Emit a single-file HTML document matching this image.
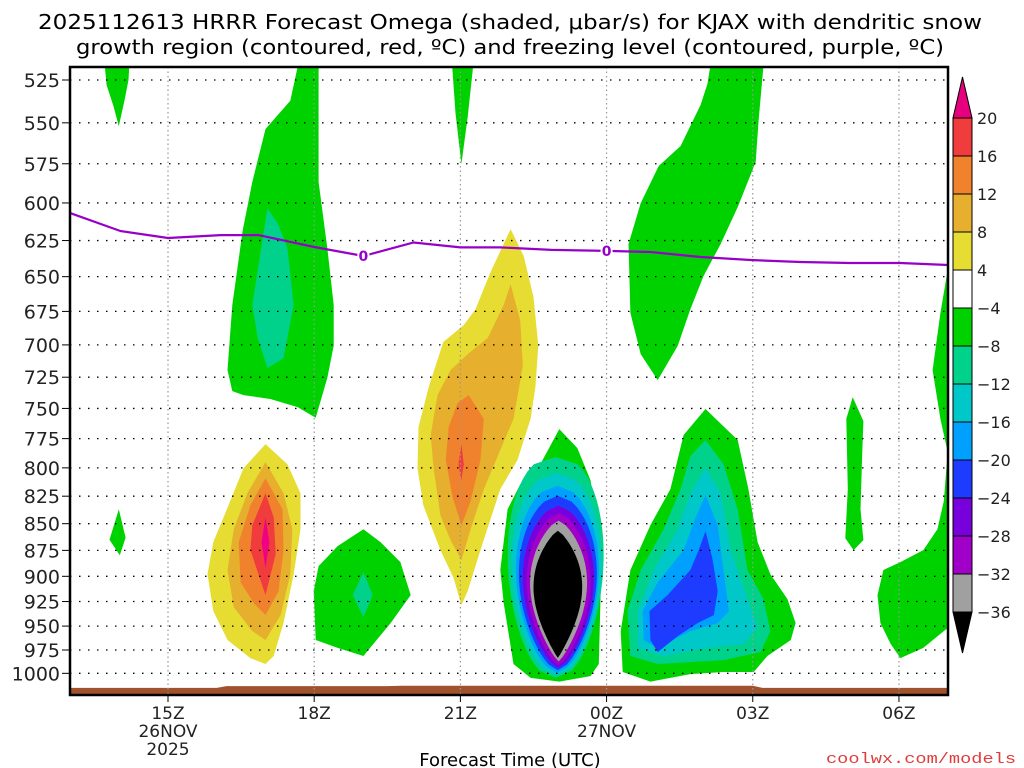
<!DOCTYPE html>
<html><head><meta charset="utf-8"><style>
html,body{margin:0;padding:0;background:#fff;}
svg{display:block;font-family:"DejaVu Sans","Liberation Sans",sans-serif;}
</style></head><body>
<svg id="chart" xmlns="http://www.w3.org/2000/svg" width="1024" height="768" viewBox="0 0 1024 768">
<rect width="1024" height="768" fill="#fff"/>
<text x="38" y="29" font-size="20" textLength="944" lengthAdjust="spacingAndGlyphs">2025112613 HRRR Forecast Omega (shaded, μbar/s) for KJAX with dendritic snow</text>
<text x="76" y="54" font-size="20" textLength="868" lengthAdjust="spacingAndGlyphs">growth region (contoured, red, ºC) and freezing level (contoured, purple, ºC)</text>
<defs><clipPath id="plotclip"><rect x="70" y="67" width="878" height="628"/></clipPath></defs>
<g id="shapes" clip-path="url(#plotclip)"></g>
<g id="grid"></g>
<g id="overlay" clip-path="url(#plotclip)"></g>
<rect x="70" y="67" width="878" height="628" fill="none" stroke="#000" stroke-width="2.5"/>
<g id="axes"></g>
<g id="cbar"></g>
<text x="510" y="766" font-size="18" text-anchor="middle">Forecast Time (UTC)</text>
<text x="1016" y="763" font-size="15" text-anchor="end" fill="#e03c3c" font-family="Liberation Mono, monospace" textLength="190" lengthAdjust="spacingAndGlyphs">coolwx.com/models</text>
</svg>
<script>
const NS='http://www.w3.org/2000/svg';
const colors={g:'#00d200',tg:'#00d28c',cy:'#00c8c8',az:'#00a0ff',bl:'#1e3cff',pu:'#7800dc',mg:'#a000c8',gr:'#a0a0a0',bk:'#000000',ye:'#e6dc32',go:'#e6af2d',or:'#f0822d',rd:'#f03c3c',pk:'#f00082'};
const pressureTicks=[525,550,575,600,625,650,675,700,725,750,775,800,825,850,875,900,925,950,975,1000];
const timeTicks=[15,18,21,24,27,30];
const timeLabels=['15Z','18Z','21Z','00Z','03Z','06Z'];
const dateLabels=['26NOV','','','27NOV','',''];
const yearLabels=['2025','','','','',''];
const cbarLabels=['20','16','12','8','4','\u22124','\u22128','\u221212','\u221216','\u221220','\u221224','\u221228','\u221232','\u221236'];
const cbarColors=['rd','or','go','ye','white','g','tg','cy','az','bl','pu','mg','gr'];
const blobTopLeft=[[13.66,505],[13.74,528],[13.88,540],[13.99,552],[14.11,536.5],[14.19,525],[14.23,505]];
const blobTall=[[18.09,505],[17.76,505],[17.51,537],[17.00,553.7],[16.73,586.5],[16.53,618.5],[16.32,670.3],[16.22,719.4],[16.32,736],[16.55,739.2],[17.10,742.4],[17.66,748.9],[18.03,757.7],[18.27,725.6],[18.40,700.7],[18.40,670.3],[18.27,630],[18.09,586.5]];
const blobTallTeal=[[17.04,603.6],[16.73,670.3],[16.84,694.6],[17.04,717.8],[17.37,710.2],[17.58,670.3],[17.45,630],[17.25,613.3]];
const blobSmallLeft=[[13.99,836.8],[13.80,864.9],[14.01,879.7],[14.13,863]];
const warm17Yellow=[[17.00,779.6],[16.55,800.3],[16.14,844.1],[15.93,867.2],[15.81,897.8],[15.93,934.7],[16.22,964.5],[16.69,983.6],[17.00,989.9],[17.17,981.4],[17.37,946.8],[17.58,897.8],[17.72,855.1],[17.72,822.3],[17.45,796.8]];
const warm17Gold=[[17.00,795],[16.63,822.3],[16.35,855.1],[16.22,893.9],[16.35,930.6],[16.73,955.2],[17.00,964.5],[17.31,938.7],[17.51,897.8],[17.55,855.1],[17.37,822.3]];
const warm17Orange=[[17.00,809],[16.69,833.2],[16.45,867.2],[16.49,905.8],[16.76,926.6],[17.00,938.7],[17.27,914.6],[17.37,874.7],[17.35,836.8]];
const warm17Red=[[17.00,822.3],[16.73,851.4],[16.69,874.7],[17.00,918.6],[17.21,878.6],[17.17,844.1]];
const warm17Pink=[[17.0,844.1],[16.92,867.2],[17.0,892],[17.08,867.2]];
const green19=[[19.01,855.1],[18.48,871],[18.09,890.1],[17.99,914.6],[18.03,964.5],[18.48,972.8],[19.01,981.4],[19.57,946.8],[19.98,918.6],[19.77,886.2],[19.36,867.2]];
const teal19=[[19.01,895.8],[18.79,918.6],[19.01,940.8],[19.20,918.6]];
const spike21=[[20.80,505],[20.90,544.2],[21.02,575.2],[21.15,546.5],[21.31,505]];
const warm22Yellow=[[22.03,617.3],[22.30,635.6],[22.50,664.5],[22.60,700.8],[22.54,732.8],[22.44,758.6],[22.17,793.3],[21.82,818.7],[21.41,874.7],[21.15,914.6],[21.02,928.6],[20.86,901.7],[20.59,874.7],[20.24,833.2],[20.12,800.3],[20.14,765.3],[20.35,732.8],[20.65,697.8],[21.07,685],[21.31,673.3],[21.62,646.7]];
const warm22Gold=[[22.03,655.3],[22.23,682.1],[22.28,716.3],[22.09,758.6],[21.82,784.6],[21.48,818.7],[21.21,855.1],[21.02,884.3],[20.80,865.3],[20.59,842.2],[20.45,800.3],[20.39,772],[20.53,739.2],[20.80,719.4],[21.15,707],[21.56,694.8],[21.89,670.3]];
const warm22Orange=[[21.17,739.2],[21.48,758.6],[21.41,793.3],[21.21,829.5],[21.02,851.4],[20.84,825.8],[20.70,793.3],[20.76,765.3],[20.94,745.7]];
const warm22Red=[[21.02,779.6],[21.07,796.8],[21.02,810.8],[20.96,796.8]];
const cold23Green=[[23.03,767],[23.40,782.9],[23.67,810.8],[23.81,847.7],[23.88,914.6],[23.84,989.9],[23.67,1003],[23.03,1009],[22.44,1005],[22.09,989.9],[21.89,926.6],[21.82,893.9],[21.97,836.8],[22.23,814.3],[22.64,796.8]];
// nested levels for 23Z core: [level, topHPa, bottomHPa, leftHour, rightHour]
const coreLevels=[['tg',790.6,1005,21.97,23.94],['cy',804.7,1002.6,22.05,23.90],['az',815.8,999.4,22.14,23.84],['bl',824.6,996.7,22.20,23.80],['pu',833.6,994,22.28,23.74],['mg',840.4,991.3,22.36,23.67],['gr',847.2,987.2,22.43,23.60],['bk',856.5,983.4,22.50,23.50]];
const coreRoundness=[0.45,0.5,0.55,0.6,0.65,0.7,0.8,0.9];
const tall01=[[26.20,505],[27.26,505],[27.12,548.6],[27.06,573.9],[26.69,602.7],[26.34,627.4],[25.99,649.6],[25.72,673.3],[25.46,700.8],[25.05,727.3],[24.70,707],[24.49,676.2],[24.45,627.4],[24.70,600.1],[25.07,576.4],[25.52,564],[25.93,539.4],[26.07,527.3]];
const cold02Green=[[26.03,750.5],[26.69,776.2],[26.91,818.7],[27.10,867.2],[27.36,897.8],[27.71,922.5],[27.88,946.8],[27.78,964.5],[27.30,981.4],[27.02,998.6],[26.40,998.6],[25.72,1000.8],[24.90,1009],[24.33,998.6],[24.29,955.2],[24.49,893.9],[24.90,851.4],[25.31,818.7],[25.58,772]];
const cold02Teal=[[26.03,776.2],[26.40,796.8],[26.69,836.8],[26.89,893.9],[27.22,922.5],[27.36,955.2],[27.16,977.2],[26.40,985.7],[25.72,987.9],[25.05,989.9],[24.49,981.4],[24.43,934.7],[24.70,893.9],[25.17,855.1],[25.52,818.7],[25.72,789.8]];
const cold02Cyan=[[26.03,800.3],[26.34,822.3],[26.55,874.7],[26.89,922.5],[27.10,951],[26.81,968.7],[26.07,972.8],[25.17,981.4],[24.64,972.8],[24.64,934.7],[24.97,893.9],[25.46,855.1],[25.72,822.3]];
const cold02Azure=[[26.03,824],[26.28,851.4],[26.40,893.9],[26.51,934.7],[26.28,946.8],[25.72,955.2],[25.05,972.8],[24.76,964.5],[24.74,934.7],[25.05,905.8],[25.58,874.7],[25.83,844.1]];
const cold02Blue=[[26.03,857],[26.17,882.4],[26.28,914.6],[26.20,938.7],[25.87,946.8],[25.46,960.4],[25.05,977.2],[24.90,964.5],[24.88,934.7],[25.25,918.6],[25.72,893.9],[25.89,874.7]];
const stick05=[[29.05,740.8],[29.27,760.4],[29.25,783],[29.21,836.8],[29.27,865.3],[29.07,874.7],[28.90,863.5],[28.95,818.7],[28.92,758.6]];
const right06=[[31.3,630.4],[31.02,641.1],[30.85,676.2],[30.69,719.4],[30.85,758.6],[31.0,786.4],[30.92,829.5],[30.79,855.1],[30.50,874.7],[30.03,886.2],[29.68,893.9],[29.56,918.6],[29.62,946.8],[29.83,968.7],[30.03,983.6],[30.50,972.8],[30.92,955.2],[31.3,940.4]];
const freezeHours=[13,14.03,15,16.08,16.86,18,19.01,20.04,21,21.82,22.87,24,24.9,25.93,27,27.98,29,30.03,31.02];
const freezeHPa=[606.7,618.6,623.3,621.3,621.3,629.4,635.6,626.3,629.7,629.7,631.4,632.1,632.8,636.3,638.4,639.7,640.4,640.4,641.8];
const freezeLabelHours=[19.01,24];
const groundHours=[13,16,16.2,19.5,19.8,27,27.2,31.1];
const groundHPa=[1016,1016,1014,1014,1013.5,1013.5,1016,1016];

const X=h=>168+(h-15)*48.73;
const Y=p=>80+920.8*Math.log(p/525);
const shapes=document.getElementById('shapes');
function poly(pts,lvl,name){
  const el=document.createElementNS(NS,'polygon');
  el.setAttribute('points',pts.map(q=>X(q[0]).toFixed(1)+','+Y(q[1]).toFixed(1)).join(' '));
  el.setAttribute('fill',colors[lvl]);
  
  
  shapes.appendChild(el);
}
const gpts=groundHours.map((h,i)=>[h,groundHPa[i]]).concat([[31.1,1040],[13,1040]]);
poly(gpts,'g','ground');
shapes.lastChild.setAttribute('fill','#a0522d');
poly(blobTopLeft,'g','green-blob-1');
poly(blobTall,'g','green-blob-2');
poly(blobTallTeal,'tg','teal-blob-2');
poly(blobSmallLeft,'g','green-blob-3');
poly(warm17Yellow,'ye','warm-17z-yellow');
poly(warm17Gold,'go','warm-17z-gold');
poly(warm17Orange,'or','warm-17z-orange');
poly(warm17Red,'rd','warm-17z-red');
poly(warm17Pink,'pk','warm-17z-pink');
poly(green19,'g','green-blob-19z');
poly(teal19,'tg','teal-blob-19z');
poly(spike21,'g','green-spike-21z');
poly(warm22Yellow,'ye','warm-22z-yellow');
poly(warm22Gold,'go','warm-22z-gold');
poly(warm22Orange,'or','warm-22z-orange');
poly(warm22Red,'rd','warm-22z-red');
poly(cold23Green,'g','cold-23z-green');
coreLevels.forEach((c,k)=>{
  const [lvl,top,bot,l,r]=c;
  const ex=coreRoundness[k];
  const hc=(l+r)/2,hw=(r-l)/2,pts=[];
  const yt=Y(top),yb=Y(bot);
  const wf=t=>hw*Math.pow(Math.sin(Math.PI*Math.pow(t,0.85)),ex);
  for(let i=0;i<=30;i++){const t=i/30;pts.push([hc+wf(t),t]);}
  for(let i=29;i>0;i--){const t=i/30;pts.push([hc-wf(t),t]);}
  const el=document.createElementNS(NS,'polygon');
  el.setAttribute('points',pts.map(q=>X(q[0]).toFixed(1)+','+(yt+q[1]*(yb-yt)).toFixed(1)).join(' '));
  el.setAttribute('fill',colors[lvl]);
  
  
  shapes.appendChild(el);
});
poly(tall01,'g','green-blob-01z');
poly(cold02Green,'g','cold-02z-green');
poly(cold02Teal,'tg','cold-02z-teal');
poly(cold02Cyan,'cy','cold-02z-cyan');
poly(cold02Azure,'az','cold-02z-azure');
poly(cold02Blue,'bl','cold-02z-blue');
poly(stick05,'g','green-stick-05z');
poly(right06,'g','green-blob-06z');

const grid=document.getElementById('grid');
pressureTicks.forEach(p=>{
  const l=document.createElementNS(NS,'line');
  l.setAttribute('x1',70);l.setAttribute('x2',948);l.setAttribute('y1',Y(p));l.setAttribute('y2',Y(p));
  l.setAttribute('stroke','#000');l.setAttribute('stroke-width','1.3');l.setAttribute('stroke-dasharray','1.5 7.5');
  
  
  grid.appendChild(l);
});
timeTicks.forEach(h=>{
  const l=document.createElementNS(NS,'line');
  l.setAttribute('x1',X(h));l.setAttribute('x2',X(h));l.setAttribute('y1',67);l.setAttribute('y2',695);
  l.setAttribute('stroke','#999');l.setAttribute('stroke-width','1.2');l.setAttribute('stroke-dasharray','1.5 3');
  
  
  grid.appendChild(l);
});
const ov=document.getElementById('overlay');
const fl=document.createElementNS(NS,'polyline');
fl.setAttribute('points',freezeHours.map((h,i)=>X(h).toFixed(1)+','+Y(freezeHPa[i]).toFixed(1)).join(' '));
fl.setAttribute('fill','none');fl.setAttribute('stroke','#9600c8');fl.setAttribute('stroke-width','2.2');


ov.appendChild(fl);
function interpP(h){for(let i=0;i<freezeHours.length-1;i++){if(h>=freezeHours[i]&&h<=freezeHours[i+1]){const t=(h-freezeHours[i])/(freezeHours[i+1]-freezeHours[i]);return freezeHPa[i]+t*(freezeHPa[i+1]-freezeHPa[i]);}}return freezeHPa[0];}
freezeLabelHours.forEach(h=>{
  const x=X(h),y=Y(interpP(h));
  const r=document.createElementNS(NS,'rect');
  r.setAttribute('x',x-6);r.setAttribute('y',y-7);r.setAttribute('width',12);r.setAttribute('height',14);r.setAttribute('fill','#fff');
  
  
  ov.appendChild(r);
  const t=document.createElementNS(NS,'text');
  t.setAttribute('x',x);t.setAttribute('y',y+5);t.setAttribute('font-size','14');t.setAttribute('font-weight','bold');t.setAttribute('text-anchor','middle');t.setAttribute('fill','#9600c8');
  t.textContent='0';
  
  
  ov.appendChild(t);
});
const ax=document.getElementById('axes');
pressureTicks.forEach(p=>{
  const t=document.createElementNS(NS,'text');
  t.setAttribute('x',60);t.setAttribute('y',Y(p)+7);t.setAttribute('font-size','19');t.setAttribute('text-anchor','end');t.setAttribute('fill','#222');
  t.textContent=p;
  
  
  ax.appendChild(t);
  const l=document.createElementNS(NS,'line');
  l.setAttribute('x1',62);l.setAttribute('x2',70);l.setAttribute('y1',Y(p));l.setAttribute('y2',Y(p));l.setAttribute('stroke','#000');
  
  
  ax.appendChild(l);
});
timeTicks.forEach((h,i)=>{
  const x=X(h);
  const l=document.createElementNS(NS,'line');
  l.setAttribute('x1',x);l.setAttribute('x2',x);l.setAttribute('y1',695);l.setAttribute('y2',702);l.setAttribute('stroke','#000');
  
  
  ax.appendChild(l);
  [[timeLabels[i],719],[dateLabels[i],737],[yearLabels[i],755]].forEach(([s,y])=>{
    if(!s)return;
    const t=document.createElementNS(NS,'text');
    t.setAttribute('x',x);t.setAttribute('y',y);t.setAttribute('font-size','17');t.setAttribute('text-anchor','middle');t.setAttribute('fill','#222');
    t.textContent=s;
    
    
    ax.appendChild(t);
  });
});
const cb=document.getElementById('cbar');
const cbTop=118,cbStep=38,cbX=953,cbW=19;
const tri1=document.createElementNS(NS,'polygon');
tri1.setAttribute('points',`${cbX},${cbTop} ${cbX+cbW},${cbTop} ${cbX+cbW/2},${cbTop-41}`);
tri1.setAttribute('fill','#e6007e');tri1.setAttribute('stroke','#000');


cb.appendChild(tri1);
cbarColors.forEach((c,i)=>{
  const r=document.createElementNS(NS,'rect');
  r.setAttribute('x',cbX);r.setAttribute('y',cbTop+i*cbStep);r.setAttribute('width',cbW);r.setAttribute('height',cbStep);
  r.setAttribute('fill',colors[c]||c);r.setAttribute('stroke','#000');r.setAttribute('stroke-width','1');
  
  
  cb.appendChild(r);
});
const bEnd=cbTop+cbarColors.length*cbStep;
const tri2=document.createElementNS(NS,'polygon');
tri2.setAttribute('points',`${cbX},${bEnd} ${cbX+cbW},${bEnd} ${cbX+cbW/2},${bEnd+41}`);
tri2.setAttribute('fill','#000');tri2.setAttribute('stroke','#000');


cb.appendChild(tri2);
cbarLabels.forEach((s,i)=>{
  const t=document.createElementNS(NS,'text');
  t.setAttribute('x',977);t.setAttribute('y',cbTop+i*cbStep+6);t.setAttribute('font-size','16');t.setAttribute('fill','#222');
  t.textContent=s;
  
  
  cb.appendChild(t);
});
</script>
</body></html>
